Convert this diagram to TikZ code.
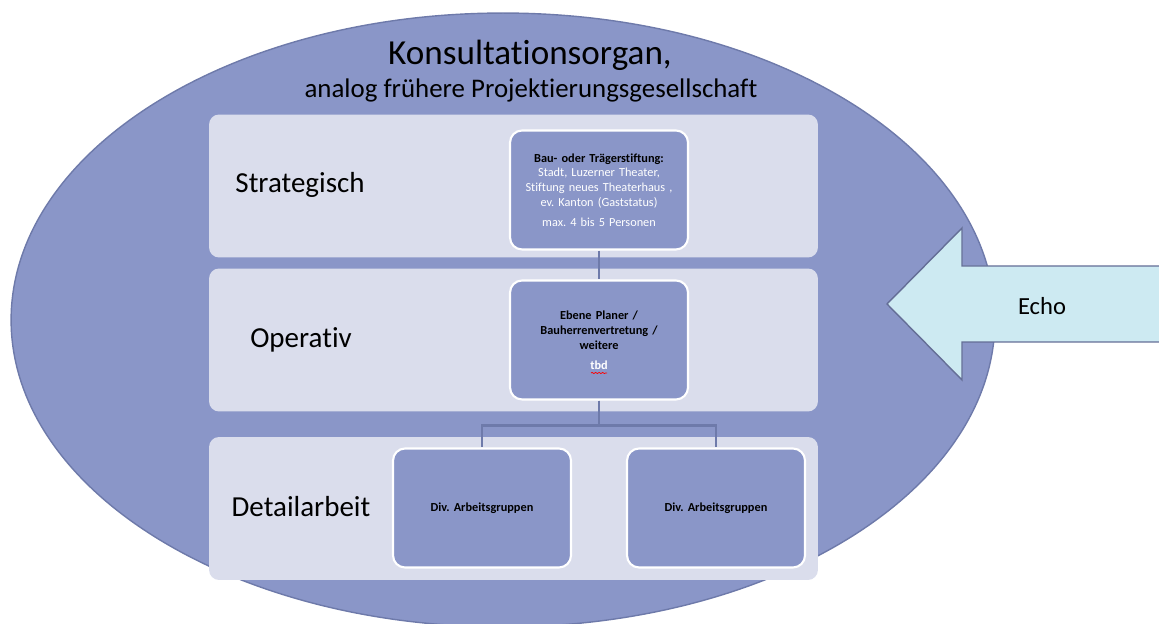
\documentclass[tikz,border=0pt]{standalone}
\usepackage{fontspec}
\setmainfont{Carlito}[Ligatures=NoCommon]
\frenchspacing
\usetikzlibrary{positioning,decorations.pathmorphing}
\definecolor{ovalfill}{RGB}{138,150,200}
\definecolor{ovaldraw}{RGB}{110,122,170}
\definecolor{bandfill}{RGB}{218,221,236}
\definecolor{boxfill}{RGB}{138,150,200}
\definecolor{echofill}{RGB}{205,234,242}
\definecolor{echodraw}{RGB}{100,110,150}

\begin{document}
\begin{tikzpicture}[x=0.02cm,y=0.02cm,
    band/.style={fill=bandfill,rounded corners=0.2cm,inner sep=0pt,
                 minimum width=12.18cm,minimum height=2.86cm},
    unit/.style={fill=boxfill,draw=white,line width=1.2pt,rounded corners=0.24cm,
                 minimum width=3.56cm,minimum height=2.38cm,inner sep=0pt,
                 text width=3.4cm,align=center,font=\fontsize{7}{8.4}\selectfont},
    level/.style={font=\fontsize{16.5}{19}\selectfont},
    link/.style={draw=ovaldraw,line width=1.2pt}]

  \useasboundingbox (0,0) rectangle (1159,624);

  % oval and title
  \draw[fill=ovalfill,draw=ovaldraw,line width=0.8pt] (503,304) ellipse [x radius=9.84cm, y radius=6.14cm];
  \node[font=\fontsize{20}{24}\selectfont] (title) at (530,569) {Konsultationsorgan,};
  \node[font=\fontsize{15.3}{18}\selectfont] (subtitle) at (531,534) {analog frühere Projektierungsgesellschaft};

  % levels
  \node[band] (bandS) at (513.5,438) {};
  \node[band] (bandO) at (513.5,284) {};
  \node[band] (bandD) at (513.5,115.5) {};
  \node[level] (strat) at (300,439) {Strategisch};
  \node[level] (oper) at (301,284) {Operativ};
  \node[level] (detail) at (301,117) {Detailarbeit};

  % units
  \node[unit,text=white] (stiftung) at (599,434)
    {\textcolor{black}{\bfseries Bau- oder Trägerstiftung:}\\
     Stadt, Luzerner Theater,\\ Stiftung neues Theaterhaus ,\\
     ev. Kanton (Gaststatus)\\[3pt] max. 4 bis 5 Personen};
  \node[unit,font=\fontsize{7}{8.4}\selectfont\bfseries] (planer) at (599,284)
    {Ebene Planer /\\ Bauherrenvertretung /\\ weitere\\[3pt] \textcolor{white}{tbd}};
  \node[unit,font=\fontsize{7}{8.4}\selectfont\bfseries] (ag1) at (482,116) {Div. Arbeitsgruppen};
  \node[unit,font=\fontsize{7}{8.4}\selectfont\bfseries] (ag2) at (716,116) {Div. Arbeitsgruppen};
  \draw[red,line width=0.4pt,decorate,decoration={snake,amplitude=0.35pt,segment length=2pt}]
    (591,251) -- (607,251);

  \draw[link] (stiftung.south) -- (planer.north);
  \draw[link] (planer.south) -- ++(0,-25) -| (ag1.north);
  \draw[link] (planer.south) -- ++(0,-25) -| (ag2.north);

  % echo arrow
  \draw[fill=echofill,draw=echodraw,line width=0.8pt]
    (887,320) -- (962,396) -- (962,358) -- (1165,358) -- (1165,282)
    -- (962,282) -- (962,244) -- cycle;
  \node[font=\fontsize{14}{17}\selectfont] (echo) at (1042,318) {Echo};
\end{tikzpicture}
\end{document}
